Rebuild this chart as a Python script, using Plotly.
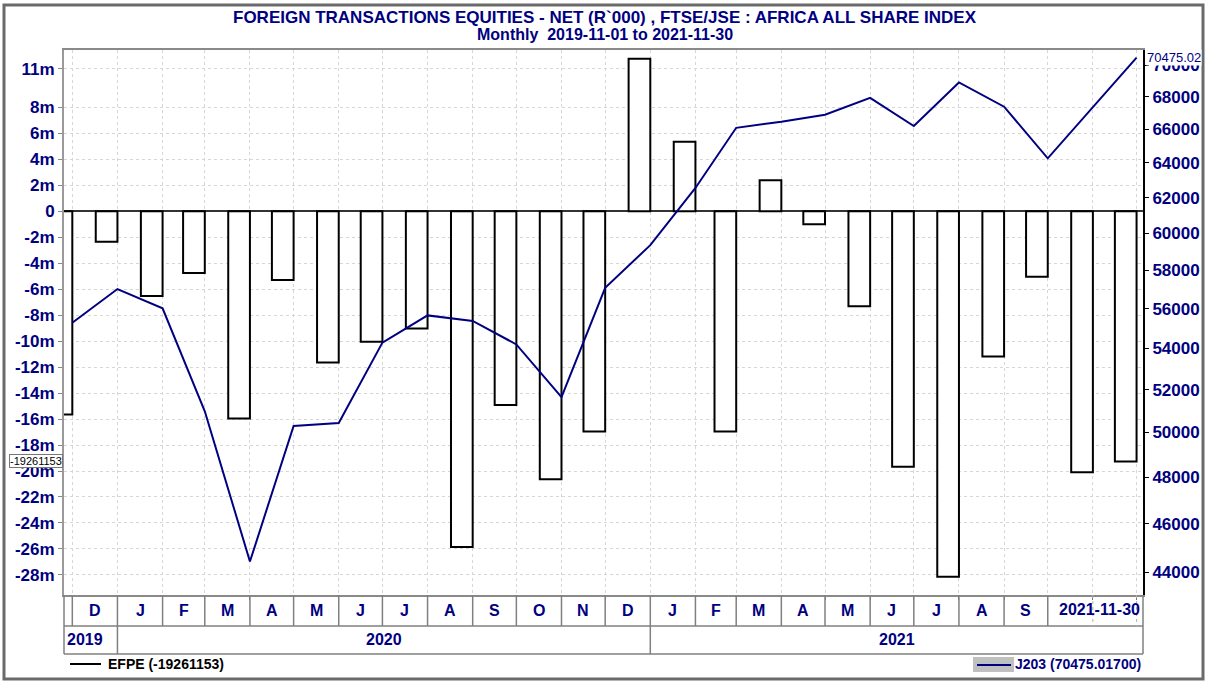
import numpy as np
import pandas as pd
import plotly.graph_objects as go

# ---------------- data ----------------
month_ends = ["2019-11-30", "2019-12-31", "2020-01-31", "2020-02-29", "2020-03-31",
              "2020-04-30", "2020-05-31", "2020-06-30", "2020-07-31", "2020-08-31",
              "2020-09-30", "2020-10-31", "2020-11-30", "2020-12-31", "2021-01-31",
              "2021-02-28", "2021-03-31", "2021-04-30", "2021-05-31", "2021-06-30",
              "2021-07-31", "2021-08-31", "2021-09-30", "2021-10-31", "2021-11-30"]

# EFPE: foreign transactions equities - net (R`000)
efpe = [-15640000, -2340000, -6520000, -4740000, -15960000,
        -5290000, -11640000, -10050000, -9030000, -25860000,
        -14920000, -20640000, -16950000, 11750000, 5360000,
        -16950000, 2390000, -990000, -7300000, -19680000,
        -28150000, -11170000, -5040000, -20090000, -19261153]

# J203: FTSE/JSE Africa All Share Index
j203 = [55290, 57020, 56020, 50980, 44430,
        50300, 50440, 54290, 55660, 55380,
        54200, 51650, 57080, 59360, 62550,
        66090, 66460, 66890, 67930, 66200,
        68890, 67380, 64270, 67330, 70475.017]

left_tick_vals = [11e6, 8e6, 6e6, 4e6, 2e6, 0, -2e6, -4e6, -6e6, -8e6, -10e6, -12e6,
                  -14e6, -16e6, -18e6, -20e6, -22e6, -24e6, -26e6, -28e6]
left_tick_text = ["11m", "8m", "6m", "4m", "2m", "0", "-2m", "-4m", "-6m", "-8m", "-10m",
                  "-12m", "-14m", "-16m", "-18m", "-20m", "-22m", "-24m", "-26m", "-28m"]
right_tick_vals = [44000, 46000, 48000, 50000, 52000, 54000, 56000, 58000,
                   60000, 62000, 64000, 66000, 68000, 70000]
right_tick_text = [str(v) for v in right_tick_vals]

month_letters = ["D", "J", "F", "M", "A", "M", "J", "J", "A", "S", "O", "N",
                 "D", "J", "F", "M", "A", "M", "J", "J", "A", "S"]
year_labels = ["2019", "2020", "2021"]

title1 = "FOREIGN TRANSACTIONS EQUITIES - NET (R`000) , FTSE/JSE : AFRICA ALL SHARE INDEX"
title2 = "Monthly  2019-11-01 to 2021-11-30"
legend1 = "EFPE (-19261153)"
legend2 = "J203 (70475.01700)"
end_label = "2021-11-30"

# ---------------- geometry ----------------
W, H = 1206, 682
L, R, T, B = 64, 1143, 50, 595
NAVY = "#000080"
FONT = "Arial, Liberation Sans, sans-serif"


def px_x(px):
    return (px - L) / (R - L)


def px_y(py):
    return (B - py) / (B - T)


DAY_MS = 86400000
bar_w = 14.9 * DAY_MS

fig = go.Figure()
fig.add_trace(go.Bar(
    x=month_ends, y=efpe, width=bar_w, offset=-bar_w,
    marker=dict(color="white", line=dict(color="black", width=2)),
    yaxis="y", name="EFPE", hoverinfo="skip"))
fig.add_trace(go.Scatter(
    x=month_ends, y=j203, mode="lines",
    line=dict(color=NAVY, width=2), yaxis="y2", name="J203", hoverinfo="skip"))

fig.update_layout(
    width=W, height=H, autosize=False,
    margin=dict(l=L, r=W - R, t=T, b=H - B, pad=0, autoexpand=False),
    paper_bgcolor="white", plot_bgcolor="white",
    showlegend=False,
    xaxis=dict(
        type="date", range=["2019-11-24 07:00", "2021-12-04 10:00"], automargin=False,
        tickmode="array", tickvals=month_ends, showticklabels=False,
        ticks="outside", ticklen=3, tickcolor="#777",
        showgrid=True, gridcolor="#d6d6d6", griddash="dot", gridwidth=1,
        showline=True, linecolor="#8a8a8a", linewidth=2, mirror=True,
        zeroline=False),
    yaxis=dict(
        range=[-29.55e6, 12.43e6], automargin=False,
        tickmode="array", tickvals=left_tick_vals, ticktext=left_tick_text,
        tickfont=dict(family=FONT, size=17, color=NAVY, weight="bold"),
        ticks="outside", ticklen=4, tickcolor="#888",
        showgrid=True, gridcolor="#d6d6d6", griddash="dot", gridwidth=1,
        zeroline=True, zerolinecolor="#333333", zerolinewidth=2,
        showline=True, linecolor="#9a9a9a", linewidth=2),
    yaxis2=dict(
        overlaying="y", side="right", type="log", automargin=False,
        range=[np.log10(43089), np.log10(70970)],
        tickmode="array", tickvals=right_tick_vals, ticktext=right_tick_text,
        tickfont=dict(family=FONT, size=17, color=NAVY, weight="bold"),
        ticks="outside", ticklen=4, tickcolor="black",
        showgrid=False, zeroline=False,
        showline=True, linecolor="black", linewidth=2),
)

shapes = []
annotations = []

# outer frame
shapes.append(dict(type="rect", xref="paper", yref="paper",
                   x0=px_x(4), x1=px_x(1203), y0=px_y(679), y1=px_y(5),
                   line=dict(color="#6a6a6a", width=3), layer="above"))

# date label rows
ROW1_TOP, ROW1_BOT, ROW2_BOT = 595, 626, 654
line_gray = dict(color="#808080", width=1.5)
for py in (ROW1_BOT, ROW2_BOT):
    shapes.append(dict(type="line", xref="paper", yref="paper",
                       x0=0, x1=1, y0=px_y(py), y1=px_y(py), line=line_gray))
for xp in (0, 1):
    shapes.append(dict(type="line", xref="paper", yref="paper",
                       x0=xp, x1=xp, y0=px_y(ROW1_TOP), y1=px_y(ROW2_BOT), line=line_gray))

# month separators
for i, d in enumerate(month_ends):
    if i < len(month_ends) - 2:
        shapes.append(dict(type="line", xref="x", yref="paper", x0=d, x1=d,
                           y0=px_y(ROW1_TOP), y1=px_y(ROW1_BOT), line=line_gray))
    else:
        shapes.append(dict(type="line", xref="x", yref="paper", x0=d, x1=d,
                           y0=px_y(ROW1_TOP), y1=px_y(ROW1_BOT),
                           line=dict(color="#b0b0b0", width=1, dash="dot")))

# year separators (Dec 31 of 2019 and 2020)
for d in ("2019-12-31", "2020-12-31"):
    shapes.append(dict(type="line", xref="x", yref="paper", x0=d, x1=d,
                       y0=px_y(ROW1_BOT), y1=px_y(ROW2_BOT), line=line_gray))

# month letters centred in each month
ts = pd.to_datetime(month_ends)
for i, lab in enumerate(month_letters):
    a, b = ts[i], ts[i + 1]
    mid = a + (b - a) / 2
    annotations.append(dict(x=mid.strftime("%Y-%m-%d %H:%M"), y=px_y(610), xref="x", yref="paper",
                            text=lab, showarrow=False, xanchor="center", yanchor="middle",
                            font=dict(family=FONT, size=16, color=NAVY, weight="bold")))
annotations.append(dict(x=1, y=px_y(609), xref="paper", yref="paper", xshift=-1,
                        text=end_label, showarrow=False, xanchor="right", yanchor="middle",
                        font=dict(family=FONT, size=16, color=NAVY, weight="bold")))

# year labels
y2019_end, y2020_end = pd.Timestamp("2019-12-31"), pd.Timestamp("2020-12-31")
annotations.append(dict(x=0, y=px_y(639), xref="paper", yref="paper", xshift=1,
                        text=year_labels[0], showarrow=False, xanchor="left", yanchor="middle",
                        font=dict(family=FONT, size=16, color=NAVY, weight="bold")))
mid2020 = y2019_end + (y2020_end - y2019_end) / 2
annotations.append(dict(x=mid2020.strftime("%Y-%m-%d"), y=px_y(639), xref="x", yref="paper",
                        text=year_labels[1], showarrow=False, xanchor="center", yanchor="middle",
                        font=dict(family=FONT, size=16, color=NAVY, weight="bold")))
annotations.append(dict(x=(px_x(651) + 1) / 2, y=px_y(639), xref="paper", yref="paper",
                        text=year_labels[2], showarrow=False, xanchor="center", yanchor="middle",
                        font=dict(family=FONT, size=16, color=NAVY, weight="bold")))

# titles
annotations.append(dict(x=px_x(605), y=px_y(17), xref="paper", yref="paper",
                        text=title1, showarrow=False, xanchor="center", yanchor="middle",
                        font=dict(family=FONT, size=17, color=NAVY, weight="bold")))
annotations.append(dict(x=px_x(605), y=px_y(35), xref="paper", yref="paper",
                        text=title2, showarrow=False, xanchor="center", yanchor="middle",
                        font=dict(family=FONT, size=16, color=NAVY, weight="bold")))

# last-value markers
annotations.append(dict(x=0, y=efpe[-1], xref="paper", yref="y", xshift=-1,
                        text=str(efpe[-1]), showarrow=False, xanchor="right", yanchor="middle",
                        bgcolor="white", bordercolor="#777", borderwidth=1, borderpad=0,
                        font=dict(family=FONT, size=11, color="black")))
annotations.append(dict(x=1, y=np.log10(j203[-1]), xref="paper", yref="y2", xshift=3,
                        text=f"{j203[-1]:.2f}", showarrow=False, xanchor="left", yanchor="middle",
                        bgcolor="white", borderpad=0,
                        font=dict(family=FONT, size=13, color=NAVY)))

# legends
LEG_Y = 664
shapes.append(dict(type="line", xref="paper", yref="paper", x0=px_x(70), x1=px_x(101),
                   y0=px_y(LEG_Y), y1=px_y(LEG_Y), line=dict(color="black", width=2)))
annotations.append(dict(x=px_x(106), y=px_y(LEG_Y), xref="paper", yref="paper",
                        text=legend1, showarrow=False, xanchor="left", yanchor="middle",
                        font=dict(family=FONT, size=14, color="black", weight="bold")))
shapes.append(dict(type="rect", xref="paper", yref="paper", x0=px_x(973), x1=px_x(1014),
                   y0=px_y(672), y1=px_y(657), fillcolor="#c0c0c0", line=dict(width=0)))
shapes.append(dict(type="line", xref="paper", yref="paper", x0=px_x(977), x1=px_x(1011),
                   y0=px_y(665), y1=px_y(665), line=dict(color=NAVY, width=2)))
annotations.append(dict(x=1, y=px_y(LEG_Y), xref="paper", yref="paper",
                        text=legend2, showarrow=False, xanchor="right", yanchor="middle",
                        font=dict(family=FONT, size=14, color=NAVY, weight="bold")))

fig.update_layout(shapes=shapes, annotations=annotations)
post = ("document.documentElement.style.overflow='hidden';"
        "document.body.style.overflow='hidden';"
        "document.body.style.margin='0px';document.body.style.padding='0px';")
fig.write_html("out.html", config={"displayModeBar": False, "responsive": False},
               post_script=post)
